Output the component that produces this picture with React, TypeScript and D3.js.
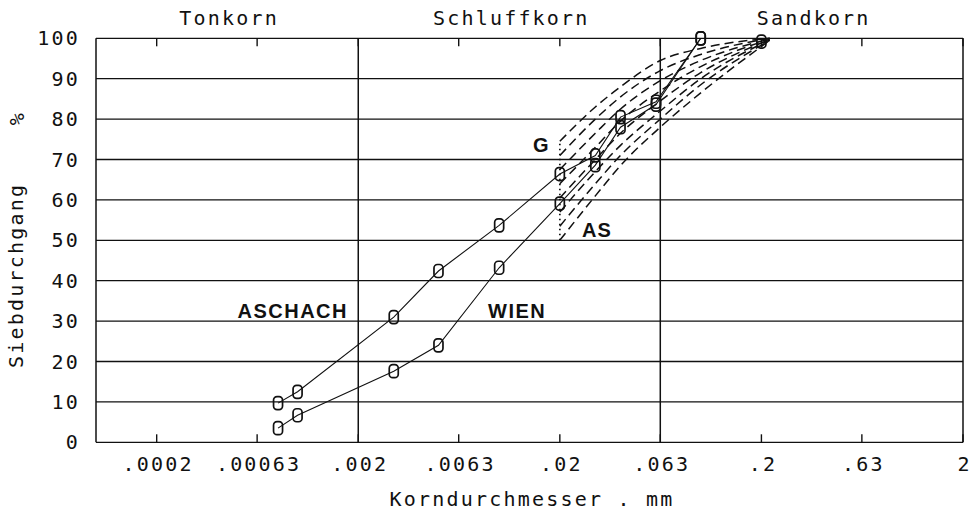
import React from 'react';
import * as d3 from 'd3';

// sieve / hydrometer grain sizes (mm) and passing percentages
const sieveSizes = [0.0008, 0.001, 0.003, 0.005, 0.01, 0.02, 0.03, 0.04, 0.06, 0.1];
const aschach = [9.7, 12.5, 31, 42.4, 53.7, 66.4, 71, 80.5, 84.3, 100];
const wien = [3.5, 6.7, 17.6, 24, 43.2, 59.1, 68.6, 78, 83.6, 100];

// grading envelopes G (upper band) and AS (lower band)
const envSizes = [0.02, 0.03, 0.04, 0.063, 0.1, 0.22];
const g1 = [74.5, 83, 88, 94.5, 97.5, 100];
const g2 = [71, 80, 85.5, 92, 96, 100];
const g3 = [67.5, 76.5, 82.5, 89.5, 94.5, 99.8];
const g4 = [64, 73, 79.5, 87, 93, 99.8];
const as1 = [60.5, 70, 76.5, 84.5, 91.5, 99.7];
const as2 = [57, 67, 73.5, 82, 90, 99.6];
const as3 = [53.5, 64, 71, 80, 88.5, 99.5];
const as4 = [50, 61, 68.5, 78, 86.5, 99.5];
const envelopes = [g1, g2, g3, g4, as1, as2, as3, as4];
const envEndMarker = [0.2, 99.2];

const xTicks = [0.0002, 0.00063, 0.002, 0.0063, 0.02, 0.063, 0.2, 0.63, 2];
const xTickLabels = ['.0002', '.00063', '.002', '.0063', '.02', '.063', '.2', '.63', '2'];
const yTicks = [0, 10, 20, 30, 40, 50, 60, 70, 80, 90, 100];
const zoneEdges = [0.0001, 0.002, 0.063, 2];
const zoneNames = ['Tonkorn', 'Schluffkorn', 'Sandkorn'];

const mono = '"DejaVu Sans Mono", "Liberation Mono", monospace';
const bold = '"Liberation Sans", Arial, sans-serif';

const x = d3.scaleLog().domain([0.0001, 2]).range([96, 963]);
const y = d3.scaleLinear().domain([0, 100]).range([442.3, 38.3]);

const Marker = ({ cx, cy }: { cx: number; cy: number }) => (
  <rect x={cx - 4.5} y={cy - 6.5} width={9} height={13} rx={3.5} fill="none" stroke="#111" strokeWidth={1.7} />
);

export default function App() {
  const line = d3.line<[number, number]>().x(d => x(d[0])).y(d => y(d[1]));
  const curve = d3.line<[number, number]>().x(d => x(d[0])).y(d => y(d[1])).curve(d3.curveMonotoneX);
  const series = [aschach, wien];
  const x0 = x.range()[0], x1 = x.range()[1];
  const starts = envelopes.map(e => e[0]);
  const txt = { fontFamily: mono, fontSize: 20, letterSpacing: 2.2, fill: '#111' };

  return (
    <svg width={978} height={510} style={{ position: 'absolute', left: 0, top: 0, background: '#fff' }}>
      {/* horizontal grid */}
      {yTicks.map(t => (
        <line key={t} x1={x0} x2={x1} y1={y(t)} y2={y(t)} stroke="#111" strokeWidth={1.3} />
      ))}
      {/* zone boundaries and frame */}
      {zoneEdges.map(z => (
        <line key={z} x1={x(z)} x2={x(z)} y1={y(0)} y2={y(100)} stroke="#111" strokeWidth={1.5} />
      ))}
      {xTicks.map(t => (
        <g key={t}>
          <line x1={x(t)} x2={x(t)} y1={y(100)} y2={y(100) + 8} stroke="#111" strokeWidth={1.4} />
          <line x1={x(t)} x2={x(t)} y1={y(0)} y2={y(0) - 8} stroke="#111" strokeWidth={1.4} />
        </g>
      ))}

      {/* zone titles */}
      {zoneNames.map((n, i) => (
        <text key={n} x={(x(zoneEdges[i]) + x(zoneEdges[i + 1])) / 2 + 2} y={25} textAnchor="middle" {...txt}>{n}</text>
      ))}

      {/* y tick labels */}
      {yTicks.map(t => (
        <text key={t} x={80} y={y(t) + 7} textAnchor="end" {...txt}>{t}</text>
      ))}
      {/* x tick labels */}
      {xTicks.map((t, i) => (
        <text key={t} x={x(t) + 1.5} y={471} textAnchor="middle" {...txt}>{xTickLabels[i]}</text>
      ))}

      {/* axis titles */}
      <text x={532} y={506} textAnchor="middle" {...txt} style={{ whiteSpace: 'pre' }}>{'Korndurchmesser . mm'}</text>
      <text transform="translate(23,368) rotate(-90)" {...txt}>Siebdurchgang</text>
      <text transform="translate(24,118) rotate(-90)" textAnchor="middle" {...txt}>%</text>

      {/* envelopes */}
      <line x1={x(envSizes[0])} x2={x(envSizes[0])} y1={y(d3.min(starts)!)} y2={y(d3.max(starts)!)}
        stroke="#111" strokeWidth={1.7} strokeDasharray="1.5,3.5" />
      {envelopes.map((e, i) => (
        <path key={i} d={curve(envSizes.map((s, j) => [s, e[j]] as [number, number]))!} fill="none"
          stroke="#111" strokeWidth={1.5} strokeDasharray="9,5" />
      ))}
      <Marker cx={x(envEndMarker[0])} cy={y(envEndMarker[1])} />

      {/* measured curves */}
      {series.map((s, i) => (
        <g key={i}>
          <path d={line(sieveSizes.map((d, j) => [d, s[j]] as [number, number]))!} fill="none" stroke="#111" strokeWidth={1.1} />
          {sieveSizes.map((d, j) => <Marker key={j} cx={x(d)} cy={y(s[j])} />)}
        </g>
      ))}

      {/* labels */}
      <text x={348} y={318} textAnchor="end" fontFamily={bold} fontWeight="bold" fontSize={20} letterSpacing={1.5} fill="#111">ASCHACH</text>
      <text x={488} y={318} fontFamily={bold} fontWeight="bold" fontSize={20} letterSpacing={1.5} fill="#111">WIEN</text>
      <text x={533} y={152} fontFamily={bold} fontWeight="bold" fontSize={20} fill="#111">G</text>
      <text x={582} y={237} fontFamily={bold} fontWeight="bold" fontSize={20} letterSpacing={1} fill="#111">AS</text>
    </svg>
  );
}
